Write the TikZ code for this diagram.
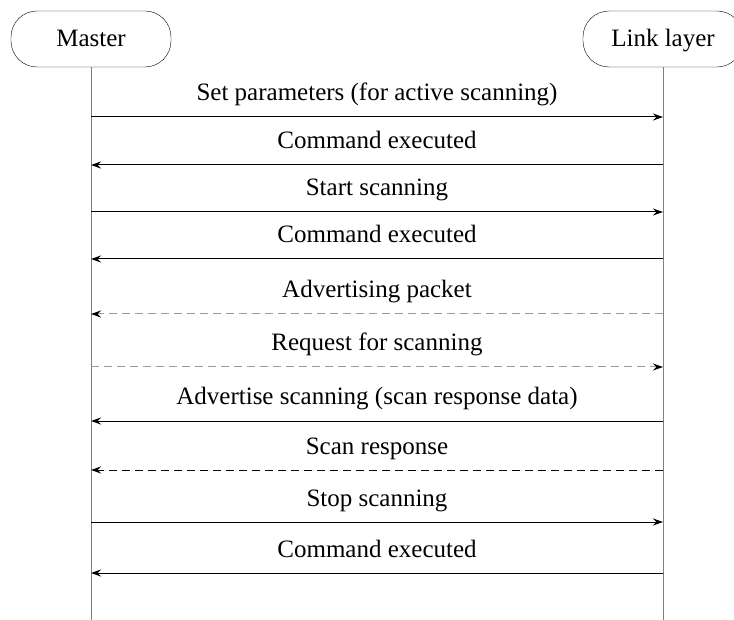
\documentclass[tikz,border=0pt]{standalone}
\usepackage{fontspec}
\setmainfont{LiberationSerif}[Extension=.ttf,UprightFont=*-Regular,BoldFont=*-Bold]
\usetikzlibrary{arrows.meta,positioning}
\definecolor{lifegray}{HTML}{808080}
\definecolor{softgray}{HTML}{9A9A9A}

\begin{document}
\begin{tikzpicture}[x=1pt,y=-1pt,>={Stealth[length=10pt,width=7pt,color=black]},
 party/.style={draw,rounded corners=26pt,minimum width=160pt,minimum height=56pt,
  inner sep=0pt,text height=20pt,text depth=4pt},
 life/.style={draw=lifegray,line width=1pt},
 msg/.style={->,line width=1pt},
 weak/.style={->,line width=1pt,draw=softgray,dash pattern=on 8pt off 5pt},
 reply/.style={->,line width=1pt,dash pattern=on 8pt off 5pt},
 every node/.style={font=\rmfamily\fontsize{25}{29}\selectfont}]
\useasboundingbox (0,0) rectangle (734,620);
\node[party] (master) at (91,39) {Master};
\node[party] (link) at (663,39) {Link layer};
\coordinate (mend) at (91,620);
\coordinate (lend) at (663,620);
\draw[life] (master) -- (mend);
\draw[life] (link) -- (lend);
% message rows on both lifelines
\foreach \i/\y in {1/117,2/165,3/212,4/259,5/314,6/367,7/421,8/470,9/522,10/573} {
 \coordinate (m\i) at (91,\y);
 \coordinate (l\i) at (663,\y);
}
\draw[msg] (m1) -- node[anchor=base,yshift=16pt] {Set parameters (for active scanning)} (l1);
\draw[msg] (l2) -- node[anchor=base,yshift=16pt] {Command executed} (m2);
\draw[msg] (m3) -- node[anchor=base,yshift=16pt] {Start scanning} (l3);
\draw[msg] (l4) -- node[anchor=base,yshift=16pt] {Command executed} (m4);
\draw[weak] (l5) -- node[anchor=base,yshift=16pt,text=black] {Advertising packet} (m5);
\draw[weak] (m6) -- node[anchor=base,yshift=16pt,text=black] {Request for scanning} (l6);
\draw[msg] (l7) -- node[anchor=base,yshift=16pt] {Advertise scanning (scan response data)} (m7);
\draw[reply] (l8) -- node[anchor=base,yshift=16pt] {Scan response} (m8);
\draw[msg] (m9) -- node[anchor=base,yshift=16pt] {Stop scanning} (l9);
\draw[msg] (l10) -- node[anchor=base,yshift=16pt] {Command executed} (m10);
\end{tikzpicture}
\end{document}
